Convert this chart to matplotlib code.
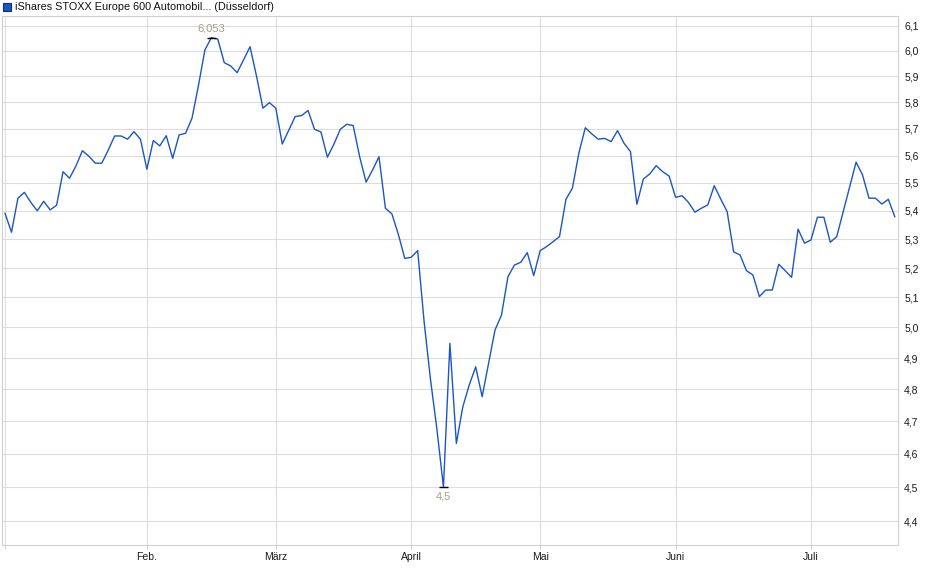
import matplotlib
matplotlib.use("Agg")
import matplotlib.pyplot as plt
from matplotlib.ticker import FixedLocator, FuncFormatter, NullLocator
from matplotlib.patches import Rectangle

# ---- data (trading-day index, Jan 2 .. Jul 18) ----
prices = [
    5.391, 5.324, 5.445, 5.466, 5.430, 5.400, 5.434, 5.403, 5.420, 5.541,
    5.517, 5.562, 5.618, 5.598, 5.572, 5.572, 5.620, 5.673, 5.673, 5.661,
    5.689, 5.661, 5.550, 5.656, 5.636, 5.674, 5.590, 5.677, 5.683, 5.740,
    5.865, 6.004, 6.053, 6.047, 5.954, 5.941, 5.915, 5.965, 6.017, 5.902,
    5.778, 5.799, 5.778, 5.643, 5.694, 5.746, 5.750, 5.769, 5.698, 5.688,
    5.594, 5.642, 5.698, 5.717, 5.712, 5.596, 5.503, 5.547, 5.596, 5.409,
    5.389, 5.317, 5.233, 5.237, 5.260, 5.019, 4.830, 4.673, 4.500, 4.948,
    4.632, 4.745, 4.814, 4.872, 4.777, 4.883, 4.992, 5.041, 5.170, 5.210,
    5.220, 5.253, 5.174, 5.260, 5.274, 5.291, 5.309, 5.441, 5.481, 5.609,
    5.704, 5.681, 5.661, 5.664, 5.652, 5.693, 5.646, 5.615, 5.423, 5.514,
    5.533, 5.563, 5.541, 5.525, 5.448, 5.454, 5.430, 5.395, 5.409, 5.421,
    5.490, 5.442, 5.397, 5.256, 5.245, 5.191, 5.176, 5.103, 5.125, 5.125,
    5.213, 5.191, 5.168, 5.335, 5.286, 5.297, 5.377, 5.377, 5.289, 5.309,
    5.397, 5.487, 5.576, 5.529, 5.445, 5.445, 5.424, 5.441, 5.379,
]
month_tick_idx = [0, 22, 42, 63, 83, 104, 125]
month_labels = ["", "Feb.", "März", "April", "Mai", "Juni", "Juli"]
y_ticks = [4.4, 4.5, 4.6, 4.7, 4.8, 4.9, 5.0, 5.1, 5.2, 5.3, 5.4, 5.5,
           5.6, 5.7, 5.8, 5.9, 6.0, 6.1]
title = "iShares STOXX Europe 600 Automobil... (Düsseldorf)"

plt.rcParams["font.family"] = ["Liberation Sans", "DejaVu Sans"]

W, H = 940, 579
fig = plt.figure(figsize=(W / 100, H / 100), dpi=100)
left, right, top, bottom = 2, 898, 16, 545
ax = fig.add_axes([left / W, (H - bottom) / H, (right - left) / W, (bottom - top) / H])

x = list(range(len(prices)))
line_color = "#1a56c4"
ax.plot(x, prices, color=line_color, lw=1.0, zorder=3)

ax.set_yscale("log")
ax.set_ylim(4.332, 6.14)
ax.set_xlim(-0.47, 138.5)
ax.yaxis.set_major_locator(FixedLocator(y_ticks))
ax.yaxis.set_minor_locator(NullLocator())
ax.yaxis.set_major_formatter(FuncFormatter(lambda v, p: f"{v:.1f}".replace(".", ",")))
ax.yaxis.tick_right()
ax.tick_params(axis="y", length=0, pad=4.5, labelsize=7.5, labelcolor="#1a1a1a")

ax.set_xticks(month_tick_idx)
ax.set_xticklabels(month_labels)
ax.tick_params(axis="x", length=3, width=0.8, color="#d0d0d0", pad=2,
               labelsize=7.5, labelcolor="#1a1a1a")

ax.grid(True, color="#dcdcdc", lw=0.8, zorder=0)
for s in ax.spines.values():
    s.set_color("#d0d0d0")
    s.set_linewidth(0.8)

# max / min markers
imax = max(range(len(prices)), key=lambda i: prices[i])
imin = min(range(len(prices)), key=lambda i: prices[i])
lab_col = "#a89f8f"
ax.hlines(prices[imax], imax - 0.7, imax + 0.7, color="black", lw=1.0, zorder=4)
ax.annotate(f"{prices[imax]:.3f}".replace(".", ","), (imax, prices[imax]),
            xytext=(0, 3), textcoords="offset points", ha="center", va="bottom",
            fontsize=8, color=lab_col)
ax.hlines(prices[imin], imin - 0.7, imin + 0.7, color="black", lw=1.0, zorder=4)
ax.annotate(f"{prices[imin]:.1f}".replace(".", ","), (imin, prices[imin]),
            xytext=(0, -3), textcoords="offset points", ha="center", va="top",
            fontsize=8, color=lab_col)

# legend/title
fig.patches.append(Rectangle((3 / W, 1 - 11 / H), 8 / W, 8 / H, transform=fig.transFigure,
                             facecolor="#1a56c4", edgecolor="#0d2f70", lw=0.8))
fig.text(15 / W, 1 - 7 / H, title, ha="left", va="center", fontsize=7.8, color="#111111")

fig.savefig("out.png", dpi=100)
